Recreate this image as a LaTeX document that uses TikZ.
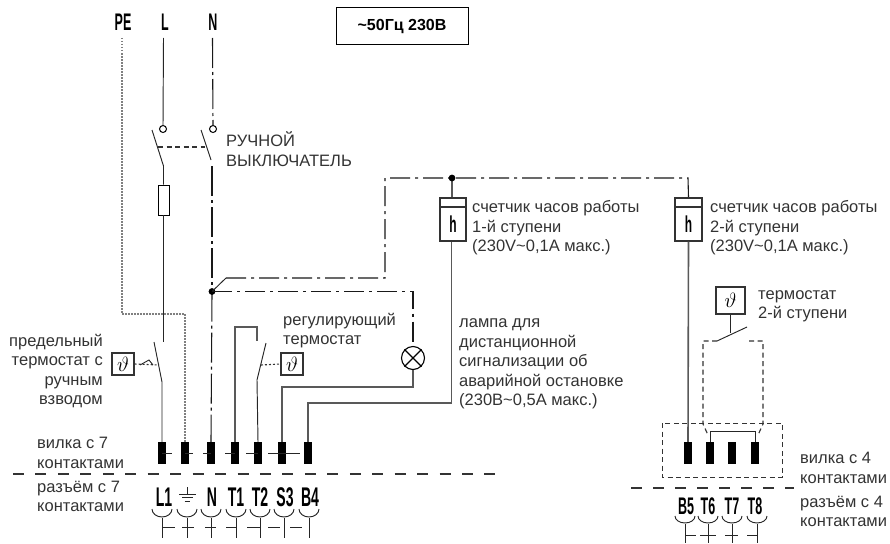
\documentclass[tikz,border=0pt]{standalone}
\usepackage{amsmath, amssymb}
\usepackage{fontspec}
\setmainfont{Liberation Sans}
\definecolor{inkgray}{gray}{0.2}
\definecolor{wiregray}{gray}{0.35}
\newcommand{\pinname}[2][24]{\scalebox{.52}[1]{\fontsize{#1}{#1}\selectfont\bfseries #2}}
\tikzset{
    wire/.style={line width=.95pt, draw=black!85},
    thickwire/.style={line width=1.6pt, draw=wiregray},
    neutral/.style={line width=1.1pt, draw=black!90, dash pattern=on 30pt off 4pt on 3pt off 4pt},
    neutralh/.style={line width=1.1pt, draw=black!90, dash pattern=on 20pt off 5pt on 3pt off 5pt},
    earth/.style={line width=2pt, draw=black!50, dash pattern=on 1.5pt off 1.5pt},
    linkdash/.style={line width=1.1pt, draw=black!80, dash pattern=on 5pt off 3.5pt},
    ring/.style={circle, draw, line width=1pt, fill=white, minimum size=7pt, inner sep=0pt},
    contactblock/.style={rectangle, fill=black, minimum width=8pt, minimum height=22pt, inner sep=0pt},
    sensorbox/.style={rectangle, draw=inkgray, line width=1.1pt, inner sep=0pt, font=\fontsize{20}{20}\selectfont},
    txt/.style={anchor=west, align=left, inner sep=0pt, text=inkgray, font=\fontsize{16.5}{19.5}\selectfont},
    txtr/.style={anchor=east, align=right, inner sep=0pt, text=inkgray, font=\fontsize{16.5}{19.5}\selectfont},
    pinlabel/.style={inner sep=0pt, text=black}
}
\begin{document}
\begin{tikzpicture}[x=1pt, y=-1pt]
    \useasboundingbox (0,0) rectangle (890,543);

    % supply names
    \node[pinlabel] (namePE) at (123,22) {\pinname{PE}};
    \node[pinlabel] (nameL) at (165,22) {\pinname{L}};
    \node[pinlabel] (nameN) at (213,22) {\pinname{N}};
    \node[draw, line width=1pt, minimum width=132pt, minimum height=37pt, inner sep=0pt,
        font=\fontsize{16}{18}\selectfont\bfseries] (mains) at (402,26.5) {\textasciitilde 50Гц 230В};

    % terminal blocks, left
    \foreach \pname/\px in {a/162,b/185,c/211,d/235,e/258,f/282,g/308}
        \node[contactblock] (cont\pname) at (\px,453) {};
    % terminal blocks, right
    \foreach \pname/\px in {h/688,i/710,j/732,k/755}
        \node[contactblock] (cont\pname) at (\px,453) {};

    % ticks on the plug side
    \draw[wire] (conta.center) -- ++(10,0);
    \draw[wire] (contb.center) -- ++(8,0);
    \draw[wire] (contc.center) -- ++(-8,0);
    \draw[wire] (contd.center) -- ++(-10,0);
    \draw[wire] (conte.center) -- ++(-12,0);
    \draw[wire] (contf.center) -- ++(-14,0);
    \draw[wire] (contf.center) -- ++(18,0);

    % PE
    \coordinate (peTop) at (122,38);
    \coordinate (peBend) at (122,314);
    \coordinate (peEnd) at (185,314);
    \draw[earth] (peTop) -- (peBend) -- (peEnd) -- (contb.north);

    % L with main switch and fuse
    \node[ring] (ringL) at (163,129) {};
    \node[draw, line width=.95pt, minimum width=11pt, minimum height=30pt, inner sep=0pt] (fuse) at (163.5,200) {};
    \coordinate (lTop) at (163.5,38);
    \coordinate (bladeLa) at (152,130);
    \coordinate (bladeLb) at (163.5,166);
    \coordinate (limitTop) at (163.5,342);
    \coordinate (limitA) at (154,342);
    \coordinate (limitB) at (162,382);
    \draw[wire] (lTop) -- (ringL.north);
    \draw[wire] (bladeLa) -- (bladeLb) -- (fuse.north);
    \draw[wire] (fuse.south) -- (limitTop);
    \draw[wire] (limitA) -- (limitB) -- (conta.north);

    % N with main switch
    \node[ring] (ringN) at (213,129) {};
    \coordinate (nTop) at (212.5,38);
    \coordinate (bladeNa) at (201,130);
    \coordinate (bladeNb) at (211,160);
    \coordinate (nMid) at (212,166);
    \coordinate (nJoint) at (212,291.5);
    \draw[neutral] (nTop) -- (ringN.north);
    \draw[wire] (bladeNa) -- (bladeNb);
    \draw[neutral] (nMid) -- (nJoint);
    \draw[neutral] (nJoint) -- (contc.north);
    \fill (nJoint) circle (3.4pt);
    \draw[linkdash] (158,147) -- (205,147);

    % hour counters
    \node[sensorbox, minimum width=26pt, minimum height=43pt] (counterA) at (453,219.5) {};
    \node[sensorbox, minimum width=27pt, minimum height=43pt] (counterB) at (688.5,219.5) {};
    \draw[sensorbox] (counterA.west |- 0,207) -- (counterA.east |- 0,207);
    \draw[sensorbox] (counterB.west |- 0,207) -- (counterB.east |- 0,207);
    \node[pinlabel] (hourA) at (453,224) {\pinname[23]{h}};
    \node[pinlabel] (hourB) at (688.5,224) {\pinname[23]{h}};

    % neutral to counters
    \coordinate (busBend) at (226,278);
    \coordinate (busA) at (385,278);
    \coordinate (busB) at (385,178);
    \coordinate (busJoint) at (452,178);
    \coordinate (busC) at (688,178);
    \draw[wire] (nJoint) -- (busBend);
    \draw[neutralh] (busBend) -- (busA) -- (busB) -- (busJoint) -- (busC) -- (counterB.north);
    \draw[thickwire] (busJoint) -- (counterA.north -| busJoint);
    \fill (busJoint) circle (3.4pt);

    % lamp
    \node[circle, draw, line width=1.1pt, minimum size=23pt, inner sep=0pt] (lamp) at (413,358) {};
    \coordinate (lampTop) at (413,291.5);
    \coordinate (lampLow) at (413,387);
    \coordinate (lampEnd) at (282,387);
    \draw[line width=1.1pt] (lamp.north west) -- (lamp.south east);
    \draw[line width=1.1pt] (lamp.north east) -- (lamp.south west);
    \draw[neutralh] (nJoint) -- (lampTop) -- (lamp.north);
    \draw[thickwire] (lamp.south) -- (lampLow) -- (lampEnd) -- (contf.north);

    % alarm return
    \coordinate (retA) at (451.5,403);
    \coordinate (retB) at (308,403);
    \draw[thickwire] (counterA.south -| retA) -- (retA) -- (retB) -- (contg.north);

    % regulating thermostat
    \coordinate (regA) at (235,327);
    \coordinate (regB) at (257,327);
    \coordinate (regC) at (257,341);
    \coordinate (regBladeA) at (266,343);
    \coordinate (regBladeB) at (257,380);
    \node[sensorbox, minimum width=22pt, minimum height=22pt] (regSensor) at (292,364) {$\vartheta$};
    \draw[thickwire, line width=1.3pt] (contd.north) -- (regA) -- (regB) -- (regC);
    \draw[wire] (regBladeA) -- (regBladeB) -- (conte.north);
    \draw[linkdash, dash pattern=on 2pt off 2pt] (261,365) -- (regSensor.west);

    % limit thermostat
    \node[sensorbox, minimum width=22pt, minimum height=22pt] (limitSensor) at (123,364) {$\vartheta$};
    \coordinate (limitLink) at (159,365);
    \draw[linkdash, dash pattern=on 2pt off 2pt] (limitSensor.east) -- (limitLink);
    \draw[wire, line width=.9pt] (140,365) -- (149,360) -- (153,365);

    % second stage
    \node[sensorbox, minimum width=29pt, minimum height=27pt] (stageSensor) at (730.5,300.5) {$\vartheta$};
    \coordinate (stageStem) at (730.5,333);
    \coordinate (stageA) at (717,341);
    \coordinate (stageB) at (747,327);
    \draw[wire] (stageSensor.south) -- (stageStem);
    \draw[wire] (stageA) -- (stageB);
    \coordinate (dashLa) at (703,341);
    \coordinate (dashLb) at (703,424);
    \coordinate (dashLc) at (708,435);
    \coordinate (dashRa) at (749,341);
    \coordinate (dashRb) at (763,341);
    \coordinate (dashRc) at (763,424);
    \coordinate (dashRd) at (758,435);
    \draw[linkdash] (stageA) -- (dashLa) -- (dashLb) -- (dashLc);
    \draw[linkdash] (dashRa) -- (dashRb) -- (dashRc) -- (dashRd);
    \draw[wire] (conti.north) -- (710,431) -- (755,431) -- (contk.north);
    \draw[linkdash, line width=1pt] (662,423) rectangle (782,477);
    \draw[thickwire] (counterB.south) -- (conth.north);

    % separators
    \draw[linkdash, dash pattern=on 11pt off 11.45pt] (13,474) -- (495,474);
    \draw[linkdash, dash pattern=on 11pt off 11pt] (631,488) -- (794,488);

    % socket names
    \foreach \pname/\px in {L1/164,N/212,T1/236,T2/260,S3/285,B4/310}
        \node[pinlabel] (pin\pname) at (\px,497) {\pinname[27]{\pname}};
    \foreach \pname/\px in {B5/686,T6/708,T7/732,T8/755}
        \node[pinlabel] (pin\pname) at (\px,506) {\pinname{\pname}};

    % earth mark
    \draw[wire] (187,487) -- (187,494);
    \draw[wire] (179,494) -- (196,494);
    \draw[wire] (182,497.5) -- (193,497.5);
    \draw[wire] (184.5,501) -- (190,501);

    % socket cups and stems, left
    \foreach \px in {162,187,211,236,260,284,309} {
        \draw[wire] (\px-10,509) arc[start angle=180, end angle=360, x radius=10, y radius=-8];
        \draw[wire] (\px,518) -- (\px,538);
    }
    \draw[wire] (162,527) -- ++(13,0);
    \draw[wire] (182,527) -- ++(12,0);
    \draw[wire] (205,527) -- ++(11,0);
    \draw[wire] (226,527) -- ++(10,0);
    \draw[wire] (247,527) -- ++(13,0);
    \draw[wire] (268,527) -- ++(12,0);
    \draw[wire] (290,527) -- ++(12,0);

    % socket cups and stems, right
    \foreach \px in {685,708,732,757} {
        \draw[wire] (\px-10,516) arc[start angle=180, end angle=360, x radius=10, y radius=-7];
        \draw[wire] (\px,524) -- (\px,543);
    }
    \draw[wire] (685,535) -- ++(11,0);
    \draw[wire] (700,535) -- ++(16,0);
    \draw[wire] (725,535) -- ++(13,0);
    \draw[wire] (747,535) -- ++(10,0);

    % texts
    \node[txt] (txtSwitch) at (226,149) {РУЧНОЙ\\ВЫКЛЮЧАТЕЛЬ};
    \node[txt] (txtCountA) at (472,228) {счетчик часов работы\\1-й ступени\\(230V\textasciitilde 0,1A макс.)};
    \node[txt] (txtCountB) at (710,228) {счетчик часов работы\\2-й ступени\\(230V\textasciitilde 0,1A макс.)};
    \node[txt] (txtStage) at (758,306.5) {термостат\\2-й ступени};
    \node[txt] (txtReg) at (283,330.5) {регулирующий\\термостат};
    \node[txt] (txtLamp) at (459,364) {лампа для\\дистанционной\\сигнализации об\\аварийной остановке\\(230В\textasciitilde 0,5А макс.)};
    \node[txtr] (txtLimit) at (103,371) {предельный\\термостат с\\ручным\\взводом};
    \node[txt] (txtPlugA) at (37,453) {вилка с 7\\контактами};
    \node[txt] (txtSockA) at (37,496.5) {разъём с 7\\контактами};
    \node[txt] (txtPlugB) at (800,468) {вилка с 4\\контактами};
    \node[txt] (txtSockB) at (800,511.5) {разъём с 4\\контактами};
\end{tikzpicture}
\end{document}
